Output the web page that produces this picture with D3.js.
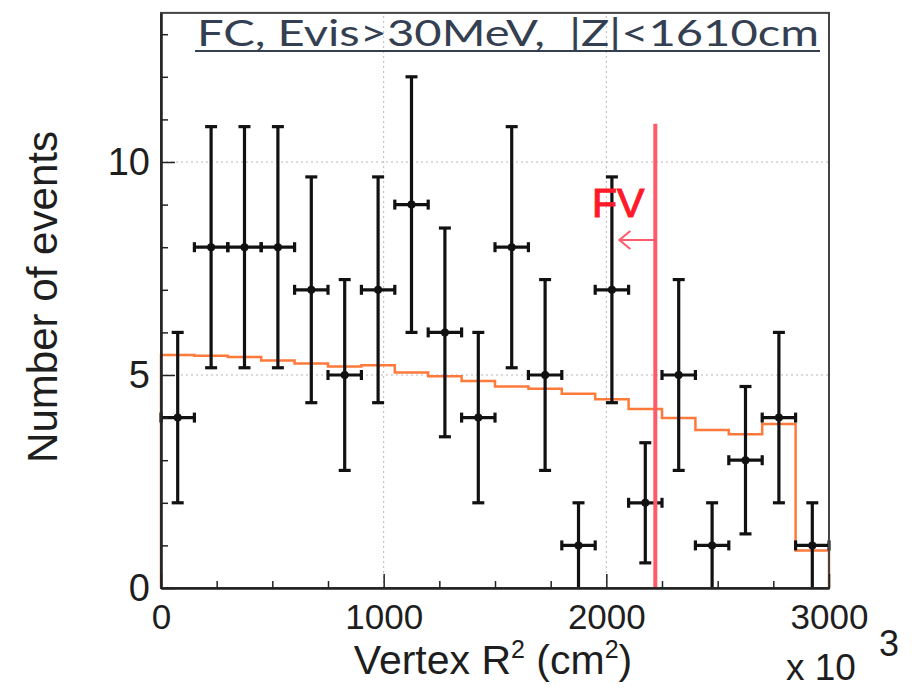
<!DOCTYPE html>
<html>
<head>
<meta charset="utf-8">
<script src="https://cdn.jsdelivr.net/npm/d3@7"></script>
<style>
  html, body { margin: 0; padding: 0; background: #fff; }
  svg { display: block; }
  text { font-family: "Liberation Sans", Arial, sans-serif; }
</style>
</head>
<body>
<svg id="chart" width="912" height="690"></svg>
<script>
// ---------- data ----------
const binCenters = [75, 225, 375, 525, 675, 825, 975, 1125, 1275, 1425,
                    1575, 1725, 1875, 2025, 2175, 2325, 2475, 2625, 2775, 2925];
const binHalfWidth = 75;
const dataCounts = [4, 8, 8, 8, 7, 5, 7, 9, 6, 4, 8, 5, 1, 7, 2, 5, 1, 3, 4, 1];
const dataErrors = [2.0, 2.83, 2.83, 2.83, 2.65, 2.24, 2.65, 3.0, 2.45, 2.0,
                    2.83, 2.24, 1.0, 2.65, 1.41, 2.24, 1.0, 1.73, 2.0, 1.0];
const mcExpected = [5.47, 5.45, 5.42, 5.34, 5.27, 5.20, 5.23, 5.06, 4.97, 4.86,
                    4.73, 4.68, 4.56, 4.43, 4.20, 3.99, 3.71, 3.61, 3.85, 0.88];
const xMajorTicks = [0, 1000, 2000, 3000];
const xMinorTicks = [250, 500, 750, 1250, 1500, 1750, 2250, 2500, 2750];
const yMajorTicks = [0, 5, 10];
const yMinorTicks = [1, 2, 3, 4, 6, 7, 8, 9, 11, 12, 13];
const xGrid = [1000, 2000];
const yGrid = [5, 10];
const fvPosition = 2220;
const fvTop = 10.9;
const titleText = "FC, Evis>30MeV,  |Z|<1610cm";

// ---------- layout ----------
const svg = d3.select("#chart");
const x = d3.scaleLinear().domain([0, 3000]).range([161, 829]);
const y = d3.scaleLinear().domain([0, 13.5]).range([588, 12.9]);

// grid
const grid = svg.append("g").attr("stroke", "#b8b8b8").attr("stroke-width", 1)
  .attr("stroke-dasharray", "2,3");
grid.selectAll("line.gx").data(xGrid).join("line")
  .attr("x1", d => x(d)).attr("x2", d => x(d))
  .attr("y1", y(0)).attr("y2", y(13.5));
grid.selectAll("line.gy").data(yGrid).join("line")
  .attr("x1", x(0)).attr("x2", x(3000))
  .attr("y1", d => y(d)).attr("y2", d => y(d));

// title
svg.append("text")
  .attr("x", 197).attr("y", 46)
  .attr("textLength", 622).attr("lengthAdjust", "spacingAndGlyphs")
  .style("font-family", "Lato, 'Open Sans', sans-serif")
  .style("font-size", "37px")
  .style("white-space", "pre")
  .attr("fill", "#353f52")
  .text(titleText);
svg.append("line").attr("x1", 195).attr("x2", 820).attr("y1", 51).attr("y2", 51)
  .attr("stroke", "#353f52").attr("stroke-width", 2);

// MC histogram (orange)
const histPts = [[x(0), y(0)]];
mcExpected.forEach((v, i) => {
  histPts.push([x(binCenters[i] - binHalfWidth), y(v)]);
  histPts.push([x(binCenters[i] + binHalfWidth), y(v)]);
});
histPts.push([x(3000), y(0)]);
svg.append("path")
  .attr("d", d3.line()(histPts))
  .attr("fill", "none").attr("stroke", "#ff7a3a").attr("stroke-width", 2.5);

// data points with error bars
const pts = svg.append("g").attr("stroke", "#111").attr("stroke-width", 3.2);
binCenters.forEach((c, i) => {
  const v = dataCounts[i], e = dataErrors[i];
  const lo = Math.max(0, v - e), hi = v + e;
  pts.append("line").attr("x1", x(c)).attr("x2", x(c)).attr("y1", y(lo)).attr("y2", y(hi));
  if (v - e > 0.01) pts.append("line").attr("x1", x(c) - 6).attr("x2", x(c) + 6).attr("y1", y(lo)).attr("y2", y(lo));
  pts.append("line").attr("x1", x(c) - 6).attr("x2", x(c) + 6).attr("y1", y(hi)).attr("y2", y(hi));
  pts.append("line").attr("x1", x(c - binHalfWidth)).attr("x2", x(c + binHalfWidth)).attr("y1", y(v)).attr("y2", y(v));
  pts.append("line").attr("x1", x(c - binHalfWidth)).attr("x2", x(c - binHalfWidth)).attr("y1", y(v) - 5).attr("y2", y(v) + 5);
  pts.append("line").attr("x1", x(c + binHalfWidth)).attr("x2", x(c + binHalfWidth)).attr("y1", y(v) - 5).attr("y2", y(v) + 5);
  svg.append("circle").attr("cx", x(c)).attr("cy", y(v)).attr("r", 4).attr("fill", "#111");
});

// FV line
svg.append("line").attr("x1", x(fvPosition)).attr("x2", x(fvPosition))
  .attr("y1", y(fvTop)).attr("y2", y(0))
  .attr("stroke", "#ff5a6a").attr("stroke-width", 4);
svg.append("text").attr("x", 592).attr("y", 217)
  .style("font-size", "41px").attr("fill", "#ff1a2a")
  .attr("stroke", "#ff1a2a").attr("stroke-width", 1.2).text("FV");
const ay = 240;
svg.append("path")
  .attr("d", `M${x(fvPosition)},${ay} L${x(fvPosition) - 36},${ay} M${x(fvPosition) - 25},${ay - 9} L${x(fvPosition) - 36},${ay} L${x(fvPosition) - 25},${ay + 9}`)
  .attr("fill", "none").attr("stroke", "#ff5a6a").attr("stroke-width", 2);

// frame
svg.append("rect").attr("x", x(0)).attr("y", y(13.5))
  .attr("width", x(3000) - x(0)).attr("height", y(0) - y(13.5))
  .attr("fill", "none").attr("stroke", "#444").attr("stroke-width", 2);

// axes
const axB = svg.append("g").attr("transform", `translate(0,${y(0)})`)
  .call(d3.axisBottom(x).tickValues(xMajorTicks).tickSizeInner(-14).tickSizeOuter(0).tickPadding(16).tickFormat(d3.format("d")));
const axBm = svg.append("g").attr("transform", `translate(0,${y(0)})`)
  .call(d3.axisBottom(x).tickValues(xMinorTicks).tickSizeInner(-7).tickSizeOuter(0).tickFormat(""));
const axL = svg.append("g").attr("transform", `translate(${x(0)},0)`)
  .call(d3.axisLeft(y).tickValues(yMajorTicks).tickSizeInner(-14).tickSizeOuter(0).tickPadding(11).tickFormat(d3.format("d")));
const axLm = svg.append("g").attr("transform", `translate(${x(0)},0)`)
  .call(d3.axisLeft(y).tickValues(yMinorTicks).tickSizeInner(-7).tickSizeOuter(0).tickFormat(""));
[axB, axBm, axL, axLm].forEach(g => {
  g.select(".domain").attr("stroke", "#222").attr("stroke-width", 2);
  g.selectAll(".tick line").attr("stroke", "#222").attr("stroke-width", 1.5);
  g.selectAll(".tick text").attr("fill", "#1e1e1e").style("font-family", "'Liberation Sans', Arial, sans-serif");
});
axB.selectAll(".tick text").style("font-size", "35px");
axL.selectAll(".tick text").style("font-size", "38px");

// axis titles
svg.append("text")
  .attr("transform", "translate(57,297) rotate(-90)")
  .attr("text-anchor", "middle")
  .attr("textLength", 332).attr("lengthAdjust", "spacingAndGlyphs")
  .style("font-size", "42px").attr("fill", "#1e1e1e")
  .text("Number of events");

const xl = svg.append("text").attr("x", 493).attr("y", 674)
  .attr("text-anchor", "middle").style("font-size", "41px").attr("fill", "#1e1e1e");
xl.append("tspan").text("Vertex R");
xl.append("tspan").attr("dy", -16).style("font-size", "25px").text("2");
xl.append("tspan").attr("dy", 16).text(" (cm");
xl.append("tspan").attr("dy", -16).style("font-size", "25px").text("2");
xl.append("tspan").attr("dy", 16).text(")");

svg.append("text").attr("x", 786).attr("y", 680)
  .style("font-size", "37px").attr("fill", "#1e1e1e").text("x 10");
svg.append("text").attr("x", 879).attr("y", 656)
  .style("font-size", "36px").attr("fill", "#1e1e1e").text("3");
</script>
</body>
</html>
